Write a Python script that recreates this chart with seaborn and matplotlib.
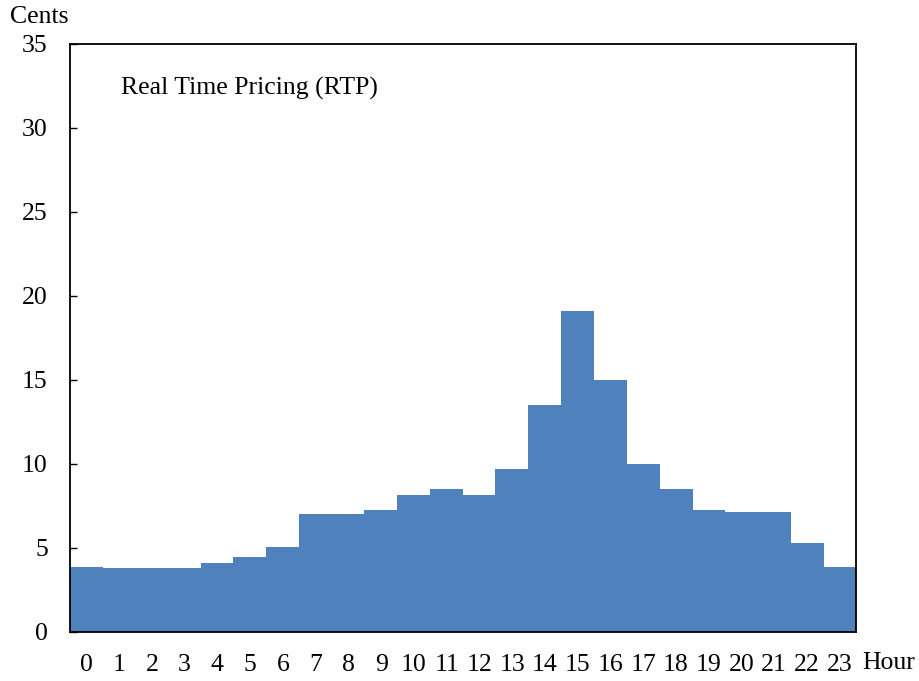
import matplotlib
matplotlib.use("Agg")
import matplotlib.pyplot as plt
import seaborn as sns
import pandas as pd

hours = [str(h) for h in range(24)]
prices = [3.85, 3.8, 3.8, 3.8, 4.1, 4.45, 5.05, 7.0, 7.0, 7.25, 8.1, 8.5,
          8.1, 9.7, 13.5, 19.05, 15.0, 10.0, 8.5, 7.25, 7.1, 7.1, 5.25, 3.83]
yticks = [0, 5, 10, 15, 20, 25, 30, 35]

sns.set_theme(style="white")
plt.rcParams['font.family'] = ['Liberation Serif', 'DejaVu Serif']

df = pd.DataFrame({"Hour": hours, "Price": prices})
FS = 18.5
COLOR = "#4F81BD"

fig = plt.figure(figsize=(9.2, 6.81), dpi=100)
ax = fig.add_axes([70/920, 1-632/681, 786/920, 588/681])
sns.barplot(data=df, x="Hour", y="Price", width=1, color=COLOR,
            saturation=1, linewidth=0, ax=ax)
for p in ax.patches:
    p.set_snap(False)
    p.set_antialiased(False)

ax.set_xlim(-0.5, 23.5)
ax.set_ylim(0, 35)
ax.set_yticks(yticks)
ax.set_xlabel("")
ax.set_ylabel("")
for s in ax.spines.values():
    s.set_visible(True)
    s.set_color("black")
    s.set_linewidth(1.3)
    s.set_zorder(5)
ax.tick_params(axis="y", direction="in", length=5, width=1, color="black",
               labelsize=FS, pad=16, left=True, labelcolor="black")
ax.tick_params(axis="x", length=0, labelsize=FS, pad=16, labelcolor="black")

ax.text((121-70)/786, (632-88)/588, "Real Time Pricing (RTP)", transform=ax.transAxes,
        fontsize=FS, va="center", ha="left", color="black")
fig.text(10/920, 1-17/681, "Cents", fontsize=FS, va="center", ha="left", color="black")
fig.text(862/920, 1-663/681, "Hour", fontsize=FS, va="center", ha="left", color="black")

fig.savefig("out.png", dpi=100)
